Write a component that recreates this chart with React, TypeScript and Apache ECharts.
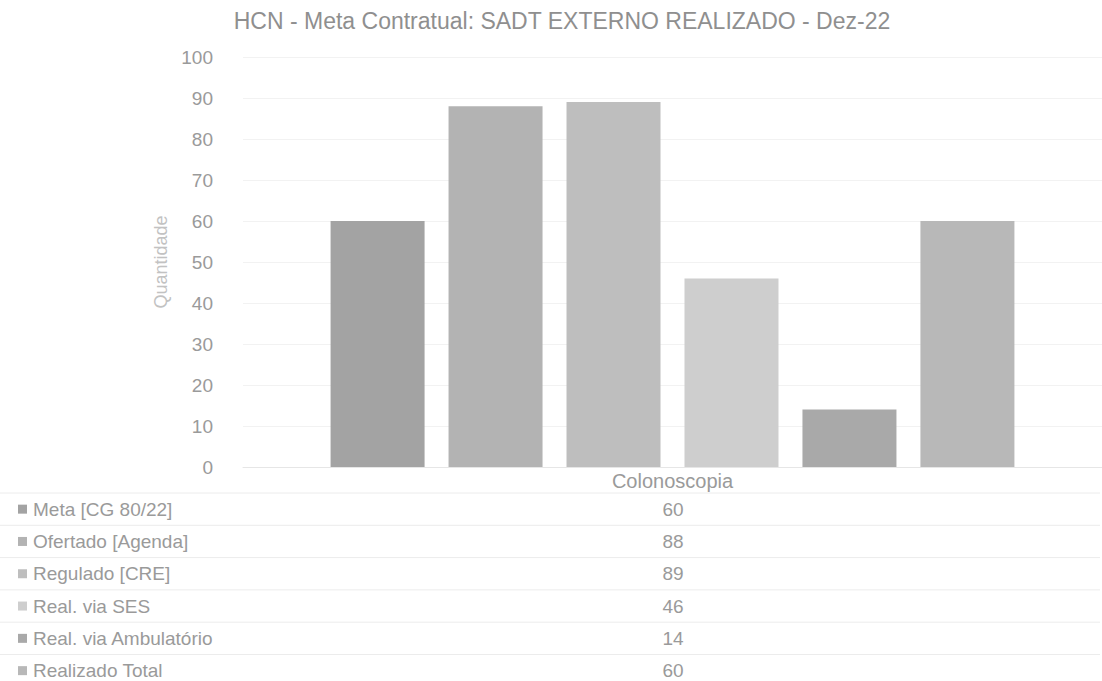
import React, { useEffect, useRef } from "react";
import * as echarts from "echarts";

const TITLE = "HCN - Meta Contratual: SADT EXTERNO REALIZADO - Dez-22";
const CATEGORIES = ["Colonoscopia"];
const SERIES_NAMES = [
  "Meta [CG 80/22]",
  "Ofertado [Agenda]",
  "Regulado [CRE]",
  "Real. via SES",
  "Real. via Ambulatório",
  "Realizado Total",
];
const SERIES_VALUES = [[60], [88], [89], [46], [14], [60]];
const SERIES_COLORS = ["#a3a3a3", "#b3b3b3", "#bebebe", "#cecece", "#a9a9a9", "#b8b8b8"];
const Y_MIN = 0;
const Y_MAX = 100;
const Y_INTERVAL = 10;
const Y_NAME = "Quantidade";

const FONT = "'Liberation Sans', Arial, sans-serif";
const TEXT_COLOR = "#9a9a9a";

export default function App() {
  const ref = useRef<HTMLDivElement>(null);

  useEffect(() => {
    if (!ref.current) return;
    const chart = echarts.init(ref.current, undefined, { renderer: "svg" });

    const rowTop = 493;
    const rowH = 32.3;
    const graphic: any[] = [];
    SERIES_NAMES.forEach((name, i) => {
      const cy = rowTop + rowH * i + rowH / 2;
      graphic.push({
        type: "line",
        shape: { x1: 0, y1: rowTop + rowH * i, x2: 1100, y2: rowTop + rowH * i },
        style: { stroke: "#ececec", lineWidth: 1 },
        silent: true,
      });
      graphic.push({
        type: "rect",
        shape: { x: 18, y: cy - 4.5, width: 9, height: 9 },
        style: { fill: SERIES_COLORS[i] },
        silent: true,
      });
      graphic.push({
        type: "text",
        x: 33,
        y: cy,
        style: {
          text: name,
          fill: TEXT_COLOR,
          font: `19px ${FONT}`,
          textVerticalAlign: "middle",
          textAlign: "left",
        },
        silent: true,
      });
      graphic.push({
        type: "text",
        x: 673,
        y: cy,
        style: {
          text: String(SERIES_VALUES[i][0]),
          fill: TEXT_COLOR,
          font: `19px ${FONT}`,
          textVerticalAlign: "middle",
          textAlign: "center",
        },
        silent: true,
      });
    });

    chart.setOption({
      animation: false,
      backgroundColor: "#ffffff",
      textStyle: { fontFamily: FONT },
      title: {
        text: TITLE,
        left: 557,
        top: 4,
        textAlign: "center",
        textStyle: { color: "#8f8f8f", fontSize: 23, fontWeight: "normal", fontFamily: FONT },
      },
      grid: { left: 243, right: 0, top: 57, bottom: 214, containLabel: false },
      xAxis: {
        type: "category",
        data: CATEGORIES,
        axisLine: { show: true, lineStyle: { color: "#e6e6e6" } },
        axisTick: { show: false },
        axisLabel: { color: TEXT_COLOR, fontSize: 20, margin: 4, fontFamily: FONT },
      },
      yAxis: {
        type: "value",
        min: Y_MIN,
        max: Y_MAX,
        interval: Y_INTERVAL,
        name: Y_NAME,
        nameLocation: "middle",
        nameGap: 72,
        nameTextStyle: { color: "#c2c2c2", fontSize: 18, fontFamily: FONT },
        axisLine: { show: false },
        axisTick: { show: false },
        axisLabel: { color: TEXT_COLOR, fontSize: 19, margin: 30, fontFamily: FONT },
        splitLine: { show: true, lineStyle: { color: "#f2f2f2" } },
      },
      series: SERIES_NAMES.map((name, i) => ({
        type: "bar",
        name,
        data: SERIES_VALUES[i],
        barWidth: 94,
        barGap: "25.5%",
        itemStyle: { color: SERIES_COLORS[i] },
      })),
      graphic,
    });

    return () => chart.dispose();
  }, []);

  return (
    <div
      ref={ref}
      style={{ position: "fixed", left: 0, top: 0, width: 1102, height: 681, background: "#fff" }}
    />
  );
}
